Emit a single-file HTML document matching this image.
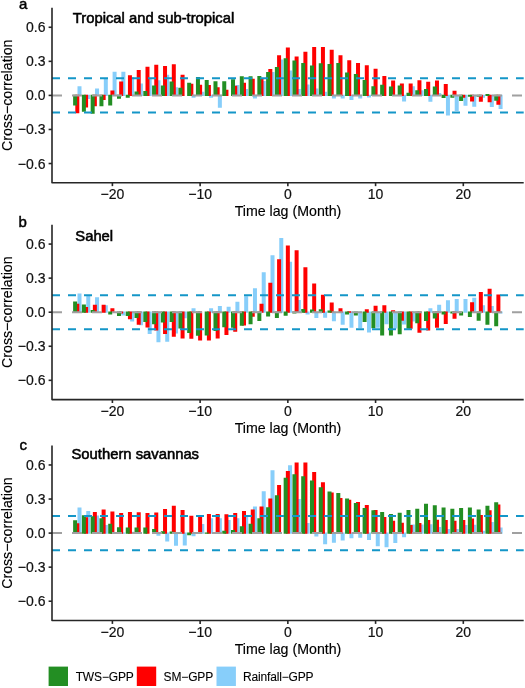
<!DOCTYPE html>
<html><head><meta charset="utf-8"><style>
html,body{margin:0;padding:0;background:#fff;width:525px;height:688px;overflow:hidden}
svg{display:block;will-change:transform}
text{font-family:"Liberation Sans",sans-serif;fill:#000;stroke:#000;stroke-width:0.35px}
.tk{font-size:14px;fill:#111;stroke:#111;stroke-width:0.2px}
.ti{font-size:14.2px;stroke-width:0.15px}
.pt{font-size:14.8px;stroke-width:0.55px}
.tag{font-size:15px;stroke-width:0.45px}
.lg{font-size:12px;stroke-width:0.1px;letter-spacing:-0.15px}
</style></head><body>
<svg width="525" height="688" viewBox="0 0 525 688">
<rect width="525" height="688" fill="#fff"/>
<path fill="#87CEFA" d="M77.5 86.17h4v9.83h-4zM86.27 94.8h4v4.16h-4zM95.05 88.44h4v7.56h-4zM103.82 78.22h4v17.78h-4zM112.59 71.75h4v24.25h-4zM121.36 71.75h4v24.25h-4zM130.13 77.08h4v18.92h-4zM138.91 83.44h4v12.56h-4zM147.68 78.9h4v17.1h-4zM156.45 80.37h4v15.63h-4zM165.23 74.7h4v21.3h-4zM174 87.19h4v8.81h-4zM191.54 94.8h4v3.02h-4zM200.31 91.84h4v4.16h-4zM209.09 94.8h4v3.02h-4zM217.86 94.8h4v12.9h-4zM235.41 85.03h4v10.97h-4zM244.18 88.89h4v7.11h-4zM252.95 94.8h4v3.82h-4zM261.72 81.06h4v14.94h-4zM270.5 71.97h4v24.03h-4zM279.27 59.48h4v36.52h-4zM288.04 70.5h4v25.5h-4zM296.81 89h4v7h-4zM305.59 84.46h4v11.54h-4zM314.36 88.44h4v7.56h-4zM323.13 91.84h4v4.16h-4zM331.9 94.8h4v3.59h-4zM340.68 94.8h4v3.59h-4zM349.45 94.8h4v5.18h-4zM358.22 94.8h4v3.59h-4zM366.99 94.8h4v2.79h-4zM402.08 94.8h4v6.65h-4zM410.86 86.17h4v9.83h-4zM419.63 90.14h4v5.86h-4zM428.4 94.8h4v7h-4zM437.17 92.98h4v3.02h-4zM445.95 94.8h4v20.62h-4zM454.72 94.8h4v16.08h-4zM463.49 94.8h4v10.97h-4zM472.26 94.8h4v11.88h-4zM481.04 94.8h4v3.02h-4zM489.81 94.8h4v12.11h-4zM498.58 94.8h4v14.15h-4z"/>
<path fill="#FF0000" d="M75.31 94.8h4v18.35h-4zM84.08 94.8h4v12.67h-4zM92.86 94.8h4v11.54h-4zM101.63 94.8h4v5.29h-4zM110.4 90.48h4v5.52h-4zM119.17 81.4h4v14.6h-4zM127.94 75.15h4v20.85h-4zM136.72 70.04h4v25.96h-4zM145.49 66.75h4v29.25h-4zM154.26 64.82h4v31.18h-4zM163.04 65.95h4v30.05h-4zM171.81 64.14h4v31.86h-4zM180.58 74.7h4v21.3h-4zM189.35 83.78h4v12.22h-4zM198.12 84.69h4v11.31h-4zM206.9 84.92h4v11.08h-4zM215.67 87.19h4v8.81h-4zM224.44 89.69h4v6.31h-4zM233.22 85.71h4v10.29h-4zM241.99 82.65h4v13.35h-4zM250.76 78.67h4v17.33h-4zM259.53 78.22h4v17.78h-4zM268.31 68.91h4v27.09h-4zM277.08 55.28h4v40.72h-4zM285.85 47.56h4v48.44h-4zM294.62 56.42h4v39.58h-4zM303.4 51.87h4v44.13h-4zM312.17 46.99h4v49.01h-4zM320.94 46.99h4v49.01h-4zM329.71 49.83h4v46.17h-4zM338.49 55.28h4v40.72h-4zM347.26 60.28h4v35.72h-4zM356.03 62.89h4v33.11h-4zM364.8 65.16h4v30.84h-4zM373.58 68.68h4v27.32h-4zM382.35 75.95h4v20.05h-4zM391.12 80.49h4v15.51h-4zM399.89 83.55h4v12.45h-4zM408.67 83.55h4v12.45h-4zM417.44 80.37h4v15.63h-4zM426.21 81.74h4v14.26h-4zM434.98 80.6h4v15.4h-4zM443.76 83.89h4v12.11h-4zM452.53 90.82h4v5.18h-4zM461.3 94.8h4v3.02h-4zM470.07 94.8h4v6.65h-4zM478.85 94.8h4v7h-4zM487.62 94.8h4v7.56h-4zM496.39 94.8h4v9.83h-4z"/>
<path fill="#238E23" d="M73.12 94.8h4v10.74h-4zM81.89 94.8h4v16.99h-4zM90.67 94.8h4v18.92h-4zM99.44 94.8h4v11.42h-4zM108.21 94.8h4v10.74h-4zM116.98 94.8h4v3.93h-4zM125.75 94.8h4v2.91h-4zM134.53 91.5h4v4.5h-4zM143.3 91.05h4v4.95h-4zM152.07 85.48h4v10.52h-4zM160.85 85.48h4v10.52h-4zM169.62 81.51h4v14.49h-4zM178.39 87.76h4v8.24h-4zM187.16 82.65h4v13.35h-4zM195.94 76.97h4v19.03h-4zM204.71 80.03h4v15.97h-4zM213.48 81.17h4v14.83h-4zM222.25 81.17h4v14.83h-4zM231.03 79.24h4v16.76h-4zM239.8 76.17h4v19.83h-4zM248.57 76.17h4v19.83h-4zM257.34 75.95h4v20.05h-4zM266.12 71.97h4v24.03h-4zM274.89 67.09h4v28.91h-4zM283.66 58.35h4v37.65h-4zM292.43 60.62h4v35.38h-4zM301.21 62.89h4v33.11h-4zM309.98 65.5h4v30.5h-4zM318.75 63.23h4v32.77h-4zM327.52 64.02h4v31.98h-4zM336.3 62.89h4v33.11h-4zM345.07 72.54h4v23.46h-4zM353.84 73.9h4v22.1h-4zM362.61 80.03h4v15.97h-4zM371.39 86.17h4v9.83h-4zM380.16 84.69h4v11.31h-4zM388.93 86.62h4v9.38h-4zM397.7 85.48h4v10.52h-4zM406.48 92.64h4v3.36h-4zM415.25 90.14h4v5.86h-4zM424.02 88.89h4v7.11h-4zM432.79 86.62h4v9.38h-4zM441.57 94.8h4v3.25h-4zM450.34 94.8h4v3.02h-4zM459.11 94.8h4v6.2h-4zM467.88 94.8h4v1.89h-4zM476.66 94.8h4v1.89h-4zM485.43 94.11h4v1.89h-4zM494.2 94.8h4v5.86h-4z"/>
<line x1="52" y1="78.37" x2="523.7" y2="78.37" stroke="#1496C8" stroke-width="2" stroke-dasharray="8 8"/>
<line x1="52" y1="112.43" x2="523.7" y2="112.43" stroke="#1496C8" stroke-width="2" stroke-dasharray="8 8"/>
<line x1="52" y1="95.4" x2="523.7" y2="95.4" stroke="#A0A0A0" stroke-width="2" stroke-dasharray="10 10"/>
<path d="M52 7.8V182.75H523.7" fill="none" stroke="#262626" stroke-width="1.6" stroke-linejoin="round"/>
<line x1="48.6" y1="163.53" x2="52" y2="163.53" stroke="#262626" stroke-width="1.6"/>
<text transform="translate(45.5 168.53) scale(1.0 1)" text-anchor="end" class="tk">−0.6</text>
<line x1="48.6" y1="129.47" x2="52" y2="129.47" stroke="#262626" stroke-width="1.6"/>
<text transform="translate(45.5 134.47) scale(1.0 1)" text-anchor="end" class="tk">−0.3</text>
<line x1="48.6" y1="95.4" x2="52" y2="95.4" stroke="#262626" stroke-width="1.6"/>
<text transform="translate(45.5 100.4) scale(1.0 1)" text-anchor="end" class="tk">0.0</text>
<line x1="48.6" y1="61.34" x2="52" y2="61.34" stroke="#262626" stroke-width="1.6"/>
<text transform="translate(45.5 66.34) scale(1.0 1)" text-anchor="end" class="tk">0.3</text>
<line x1="48.6" y1="27.27" x2="52" y2="27.27" stroke="#262626" stroke-width="1.6"/>
<text transform="translate(45.5 32.27) scale(1.0 1)" text-anchor="end" class="tk">0.6</text>
<line x1="112.4" y1="182.75" x2="112.4" y2="186.15" stroke="#262626" stroke-width="1.6"/>
<text transform="translate(112.4 199.35) scale(1.0 1)" text-anchor="middle" class="tk">−20</text>
<line x1="200.12" y1="182.75" x2="200.12" y2="186.15" stroke="#262626" stroke-width="1.6"/>
<text transform="translate(200.12 199.35) scale(1.0 1)" text-anchor="middle" class="tk">−10</text>
<line x1="287.85" y1="182.75" x2="287.85" y2="186.15" stroke="#262626" stroke-width="1.6"/>
<text transform="translate(287.85 199.35) scale(1.0 1)" text-anchor="middle" class="tk">0</text>
<line x1="375.58" y1="182.75" x2="375.58" y2="186.15" stroke="#262626" stroke-width="1.6"/>
<text transform="translate(375.58 199.35) scale(1.0 1)" text-anchor="middle" class="tk">10</text>
<line x1="463.3" y1="182.75" x2="463.3" y2="186.15" stroke="#262626" stroke-width="1.6"/>
<text transform="translate(463.3 199.35) scale(1.0 1)" text-anchor="middle" class="tk">20</text>
<text x="288" y="215.85" text-anchor="middle" class="ti">Time lag (Month)</text>
<text transform="translate(12.2 95.28) rotate(-90)" text-anchor="middle" class="ti">Cross−correlation</text>
<text x="72.8" y="23" class="pt">Tropical and sub-tropical</text>
<text x="19.1" y="8.5" class="tag">a</text>
<path fill="#87CEFA" d="M77.5 293.43h4v19.37h-4zM86.27 295.93h4v16.87h-4zM95.05 297.29h4v15.51h-4zM103.82 305.24h4v7.56h-4zM121.36 311.6h4v3.82h-4zM130.13 311.6h4v9.83h-4zM138.91 311.6h4v13.69h-4zM147.68 311.6h4v22.32h-4zM156.45 311.6h4v30.73h-4zM165.23 311.6h4v30.27h-4zM174 311.6h4v21.87h-4zM182.77 311.6h4v6.65h-4zM191.54 308.19h4v4.61h-4zM209.09 308.19h4v4.61h-4zM217.86 306.03h4v6.77h-4zM226.63 306.83h4v5.97h-4zM235.41 301.83h4v10.97h-4zM244.18 296.15h4v16.65h-4zM252.95 288.2h4v24.6h-4zM261.72 272.31h4v40.49h-4zM270.5 255.27h4v57.52h-4zM279.27 237.9h4v74.9h-4zM288.04 261.63h4v51.17h-4zM296.81 300.01h4v12.79h-4zM305.59 311.6h4v3.02h-4zM314.36 311.6h4v6.31h-4zM323.13 311.6h4v6.09h-4zM331.9 311.6h4v9.61h-4zM340.68 311.6h4v13.24h-4zM349.45 311.6h4v16.08h-4zM358.22 311.6h4v16.31h-4zM366.99 311.6h4v20.85h-4zM375.77 311.6h4v16.08h-4zM384.54 311.6h4v12.67h-4zM393.31 311.6h4v16.99h-4zM402.08 311.6h4v12.9h-4zM410.86 311.6h4v9.83h-4zM428.4 308.19h4v4.61h-4zM437.17 304.78h4v8.02h-4zM445.95 300.24h4v12.56h-4zM454.72 298.88h4v13.92h-4zM463.49 299.11h4v13.69h-4zM472.26 297.74h4v15.06h-4zM481.04 305.24h4v7.56h-4zM489.81 306.03h4v6.77h-4zM498.58 311.6h4v1.89h-4z"/>
<path fill="#FF0000" d="M75.31 303.65h4v9.15h-4zM84.08 307.05h4v5.75h-4zM92.86 304.78h4v8.02h-4zM101.63 304.78h4v8.02h-4zM110.4 308.19h4v4.61h-4zM119.17 311.6h4v1.89h-4zM127.94 311.6h4v7.56h-4zM136.72 311.6h4v13.24h-4zM145.49 311.6h4v15.97h-4zM154.26 311.6h4v18.8h-4zM163.04 311.6h4v22.32h-4zM171.81 311.6h4v25.05h-4zM180.58 311.6h4v26.87h-4zM189.35 311.6h4v27.09h-4zM198.12 311.6h4v28.91h-4zM206.9 311.6h4v29.02h-4zM215.67 311.6h4v26.98h-4zM224.44 311.6h4v23.46h-4zM233.22 311.6h4v20.17h-4zM241.99 311.6h4v13.92h-4zM250.76 311.6h4v5.18h-4zM259.53 303.65h4v9.15h-4zM268.31 282.75h4v30.05h-4zM277.08 259.36h4v53.44h-4zM285.85 245.62h4v67.18h-4zM294.62 250.28h4v62.52h-4zM303.4 267.2h4v45.6h-4zM312.17 283.44h4v29.36h-4zM320.94 294.68h4v18.12h-4zM329.71 302.51h4v10.29h-4zM338.49 308.3h4v4.5h-4zM347.26 311.26h4v1.54h-4zM364.8 309.21h4v3.59h-4zM373.58 305.8h4v7h-4zM382.35 305.24h4v7.56h-4zM391.12 310.23h4v2.57h-4zM399.89 311.6h4v9.27h-4zM408.67 311.6h4v17.21h-4zM417.44 311.6h4v21.19h-4zM426.21 311.6h4v18.92h-4zM434.98 311.6h4v16.08h-4zM443.76 311.6h4v12.45h-4zM452.53 311.6h4v7.22h-4zM470.07 302.28h4v10.52h-4zM478.85 292.07h4v20.73h-4zM487.62 288.66h4v24.14h-4zM496.39 294.56h4v18.24h-4z"/>
<path fill="#238E23" d="M73.12 301.6h4v11.2h-4zM81.89 304.44h4v8.36h-4zM90.67 310.12h4v2.68h-4zM108.21 311.6h4v3.02h-4zM116.98 311.6h4v4.5h-4zM125.75 311.6h4v4.5h-4zM134.53 311.6h4v6.43h-4zM143.3 311.6h4v10.29h-4zM152.07 311.6h4v12.56h-4zM160.85 311.6h4v10.97h-4zM169.62 311.6h4v10.52h-4zM178.39 311.6h4v16.87h-4zM187.16 311.6h4v21.42h-4zM195.94 311.6h4v24.03h-4zM204.71 311.6h4v23.91h-4zM213.48 311.6h4v19.37h-4zM222.25 311.6h4v15.63h-4zM231.03 311.6h4v16.19h-4zM239.8 311.6h4v14.15h-4zM248.57 311.6h4v12.56h-4zM257.34 311.6h4v9.38h-4zM266.12 311.6h4v4.84h-4zM274.89 311.6h4v6.43h-4zM283.66 311.6h4v4.16h-4zM292.43 311.6h4v1.89h-4zM301.21 308.98h4v3.82h-4zM309.98 309.55h4v3.25h-4zM318.75 309.32h4v3.48h-4zM327.52 310.46h4v2.34h-4zM345.07 311.6h4v3.02h-4zM353.84 311.6h4v3.82h-4zM362.61 311.6h4v10.4h-4zM371.39 311.6h4v16.65h-4zM380.16 311.6h4v23.8h-4zM388.93 311.6h4v23.8h-4zM397.7 311.6h4v22.67h-4zM406.48 311.6h4v17.21h-4zM415.25 311.6h4v11.54h-4zM424.02 311.6h4v9.49h-4zM432.79 311.6h4v7h-4zM441.57 311.6h4v3.02h-4zM450.34 311.6h4v1.89h-4zM459.11 311.6h4v3.82h-4zM467.88 311.6h4v5.29h-4zM476.66 311.6h4v9.04h-4zM485.43 311.6h4v13.24h-4zM494.2 311.6h4v14.72h-4z"/>
<line x1="52" y1="295.17" x2="523.7" y2="295.17" stroke="#1496C8" stroke-width="2" stroke-dasharray="8 8"/>
<line x1="52" y1="329.23" x2="523.7" y2="329.23" stroke="#1496C8" stroke-width="2" stroke-dasharray="8 8"/>
<line x1="52" y1="312.2" x2="523.7" y2="312.2" stroke="#A0A0A0" stroke-width="2" stroke-dasharray="10 10"/>
<path d="M52 224.8V399.6H523.7" fill="none" stroke="#262626" stroke-width="1.6" stroke-linejoin="round"/>
<line x1="48.6" y1="380.33" x2="52" y2="380.33" stroke="#262626" stroke-width="1.6"/>
<text transform="translate(45.5 385.33) scale(1.0 1)" text-anchor="end" class="tk">−0.6</text>
<line x1="48.6" y1="346.26" x2="52" y2="346.26" stroke="#262626" stroke-width="1.6"/>
<text transform="translate(45.5 351.26) scale(1.0 1)" text-anchor="end" class="tk">−0.3</text>
<line x1="48.6" y1="312.2" x2="52" y2="312.2" stroke="#262626" stroke-width="1.6"/>
<text transform="translate(45.5 317.2) scale(1.0 1)" text-anchor="end" class="tk">0.0</text>
<line x1="48.6" y1="278.13" x2="52" y2="278.13" stroke="#262626" stroke-width="1.6"/>
<text transform="translate(45.5 283.13) scale(1.0 1)" text-anchor="end" class="tk">0.3</text>
<line x1="48.6" y1="244.07" x2="52" y2="244.07" stroke="#262626" stroke-width="1.6"/>
<text transform="translate(45.5 249.07) scale(1.0 1)" text-anchor="end" class="tk">0.6</text>
<line x1="112.4" y1="399.6" x2="112.4" y2="403" stroke="#262626" stroke-width="1.6"/>
<text transform="translate(112.4 416.2) scale(1.0 1)" text-anchor="middle" class="tk">−20</text>
<line x1="200.12" y1="399.6" x2="200.12" y2="403" stroke="#262626" stroke-width="1.6"/>
<text transform="translate(200.12 416.2) scale(1.0 1)" text-anchor="middle" class="tk">−10</text>
<line x1="287.85" y1="399.6" x2="287.85" y2="403" stroke="#262626" stroke-width="1.6"/>
<text transform="translate(287.85 416.2) scale(1.0 1)" text-anchor="middle" class="tk">0</text>
<line x1="375.58" y1="399.6" x2="375.58" y2="403" stroke="#262626" stroke-width="1.6"/>
<text transform="translate(375.58 416.2) scale(1.0 1)" text-anchor="middle" class="tk">10</text>
<line x1="463.3" y1="399.6" x2="463.3" y2="403" stroke="#262626" stroke-width="1.6"/>
<text transform="translate(463.3 416.2) scale(1.0 1)" text-anchor="middle" class="tk">20</text>
<text x="288" y="432.7" text-anchor="middle" class="ti">Time lag (Month)</text>
<text transform="translate(12.2 312.2) rotate(-90)" text-anchor="middle" class="ti">Cross−correlation</text>
<text x="75.3" y="241" class="pt">Sahel</text>
<text x="18.6" y="227.1" class="tag">b</text>
<path fill="#87CEFA" d="M77.5 507.51h4v26.19h-4zM86.27 510.92h4v22.78h-4zM95.05 515.46h4v18.24h-4zM103.82 524.89h4v8.81h-4zM121.36 532.5h4v1.32h-4zM130.13 531.81h4v1.89h-4zM156.45 532.5h4v3.25h-4zM165.23 532.5h4v8.93h-4zM174 532.5h4v13.35h-4zM182.77 532.5h4v12.9h-4zM191.54 532.5h4v3.82h-4zM200.31 523.98h4v9.72h-4zM209.09 518.3h4v15.4h-4zM217.86 518.19h4v15.51h-4zM226.63 519.89h4v13.81h-4zM235.41 518.19h4v15.51h-4zM244.18 516.49h4v17.21h-4zM252.95 506.49h4v27.21h-4zM261.72 491.28h4v42.42h-4zM270.5 470.27h4v63.43h-4zM288.04 465.16h4v68.54h-4zM296.81 499.11h4v34.59h-4zM305.59 522.96h4v10.74h-4zM314.36 532.5h4v4.04h-4zM323.13 532.5h4v11.65h-4zM331.9 532.5h4v10.17h-4zM340.68 532.5h4v7.9h-4zM349.45 532.5h4v5.75h-4zM358.22 532.5h4v5.18h-4zM366.99 532.5h4v7.45h-4zM375.77 532.5h4v13.69h-4zM384.54 532.5h4v14.83h-4zM393.31 532.5h4v10.52h-4zM402.08 532.5h4v4.72h-4zM410.86 524.55h4v9.15h-4zM419.63 524.43h4v9.27h-4zM428.4 524.21h4v9.49h-4zM437.17 526.93h4v6.77h-4zM445.95 528.98h4v4.72h-4zM454.72 528.98h4v4.72h-4zM463.49 525h4v8.7h-4zM472.26 524.66h4v9.04h-4zM481.04 530.68h4v3.02h-4zM489.81 521.94h4v11.76h-4zM498.58 527.61h4v6.09h-4z"/>
<path fill="#FF0000" d="M75.31 523.18h4v10.52h-4zM84.08 517.17h4v16.53h-4zM92.86 512.06h4v21.64h-4zM101.63 509.56h4v24.14h-4zM110.4 511.49h4v22.21h-4zM119.17 513.08h4v20.62h-4zM127.94 512.06h4v21.64h-4zM136.72 512.28h4v21.42h-4zM145.49 512.97h4v20.73h-4zM154.26 512.62h4v21.08h-4zM163.04 508.88h4v24.82h-4zM171.81 505.7h4v28h-4zM180.58 510.01h4v23.69h-4zM189.35 515.69h4v18.01h-4zM198.12 516.83h4v16.87h-4zM206.9 514.1h4v19.6h-4zM215.67 514.1h4v19.6h-4zM224.44 514.21h4v19.49h-4zM233.22 513.08h4v20.62h-4zM241.99 510.92h4v22.78h-4zM250.76 509.45h4v24.25h-4zM259.53 506.49h4v27.21h-4zM268.31 498.43h4v35.27h-4zM277.08 485.03h4v48.67h-4zM285.85 471.07h4v62.63h-4zM294.62 462.55h4v71.15h-4zM303.4 462.55h4v71.15h-4zM312.17 471.97h4v61.73h-4zM320.94 482.31h4v51.39h-4zM329.71 492.41h4v41.29h-4zM338.49 498.09h4v35.61h-4zM347.26 499.79h4v33.91h-4zM356.03 501.95h4v31.75h-4zM364.8 505.02h4v28.68h-4zM373.58 509.9h4v23.8h-4zM382.35 517.05h4v16.65h-4zM391.12 520.8h4v12.9h-4zM399.89 522.73h4v10.97h-4zM408.67 525h4v8.7h-4zM417.44 522.96h4v10.74h-4zM426.21 520.12h4v13.58h-4zM434.98 519.66h4v14.04h-4zM443.76 520.12h4v13.58h-4zM452.53 520.8h4v12.9h-4zM461.3 520.12h4v13.58h-4zM470.07 518.42h4v15.28h-4zM478.85 515.12h4v18.58h-4zM487.62 510.24h4v23.46h-4zM496.39 504.56h4v29.14h-4z"/>
<path fill="#238E23" d="M73.12 520.23h4v13.47h-4zM81.89 515.24h4v18.46h-4zM90.67 516.37h4v17.33h-4zM99.44 518.3h4v15.4h-4zM108.21 523.75h4v9.95h-4zM116.98 527.27h4v6.43h-4zM125.75 527.5h4v6.2h-4zM134.53 527.5h4v6.2h-4zM143.3 527.5h4v6.2h-4zM152.07 528.98h4v4.72h-4zM160.85 531.25h4v2.45h-4zM169.62 531.59h4v2.11h-4zM187.16 532.5h4v2.68h-4zM204.71 532.38h4v1.32h-4zM222.25 530.68h4v3.02h-4zM231.03 529.88h4v3.82h-4zM239.8 526.14h4v7.56h-4zM248.57 523.87h4v9.83h-4zM257.34 518.19h4v15.51h-4zM266.12 507.29h4v26.41h-4zM274.89 495.36h4v38.34h-4zM283.66 477.76h4v55.94h-4zM292.43 474.24h4v59.46h-4zM301.21 476.18h4v57.52h-4zM309.98 480.38h4v53.32h-4zM318.75 487.19h4v46.51h-4zM327.52 491.5h4v42.2h-4zM336.3 493.09h4v40.61h-4zM345.07 498.54h4v35.16h-4zM353.84 502.97h4v30.73h-4zM362.61 507.97h4v25.73h-4zM371.39 510.24h4v23.46h-4zM380.16 511.94h4v21.76h-4zM388.93 513.99h4v19.71h-4zM397.7 512.85h4v20.85h-4zM406.48 509.9h4v23.8h-4zM415.25 508.76h4v24.94h-4zM424.02 503.77h4v29.93h-4zM432.79 505.36h4v28.34h-4zM441.57 507.4h4v26.3h-4zM450.34 508.76h4v24.94h-4zM459.11 507.97h4v25.73h-4zM467.88 507.4h4v26.3h-4zM476.66 509.45h4v24.25h-4zM485.43 505.7h4v28h-4zM494.2 502.29h4v31.41h-4z"/>
<line x1="52" y1="516.07" x2="523.7" y2="516.07" stroke="#1496C8" stroke-width="2" stroke-dasharray="8 8"/>
<line x1="52" y1="550.13" x2="523.7" y2="550.13" stroke="#1496C8" stroke-width="2" stroke-dasharray="8 8"/>
<line x1="52" y1="533.1" x2="523.7" y2="533.1" stroke="#A0A0A0" stroke-width="2" stroke-dasharray="10 10"/>
<path d="M52 445.6V620.5H523.7" fill="none" stroke="#262626" stroke-width="1.6" stroke-linejoin="round"/>
<line x1="48.6" y1="601.23" x2="52" y2="601.23" stroke="#262626" stroke-width="1.6"/>
<text transform="translate(45.5 606.23) scale(1.0 1)" text-anchor="end" class="tk">−0.6</text>
<line x1="48.6" y1="567.16" x2="52" y2="567.16" stroke="#262626" stroke-width="1.6"/>
<text transform="translate(45.5 572.16) scale(1.0 1)" text-anchor="end" class="tk">−0.3</text>
<line x1="48.6" y1="533.1" x2="52" y2="533.1" stroke="#262626" stroke-width="1.6"/>
<text transform="translate(45.5 538.1) scale(1.0 1)" text-anchor="end" class="tk">0.0</text>
<line x1="48.6" y1="499.04" x2="52" y2="499.04" stroke="#262626" stroke-width="1.6"/>
<text transform="translate(45.5 504.04) scale(1.0 1)" text-anchor="end" class="tk">0.3</text>
<line x1="48.6" y1="464.97" x2="52" y2="464.97" stroke="#262626" stroke-width="1.6"/>
<text transform="translate(45.5 469.97) scale(1.0 1)" text-anchor="end" class="tk">0.6</text>
<line x1="112.4" y1="620.5" x2="112.4" y2="623.9" stroke="#262626" stroke-width="1.6"/>
<text transform="translate(112.4 637.1) scale(1.0 1)" text-anchor="middle" class="tk">−20</text>
<line x1="200.12" y1="620.5" x2="200.12" y2="623.9" stroke="#262626" stroke-width="1.6"/>
<text transform="translate(200.12 637.1) scale(1.0 1)" text-anchor="middle" class="tk">−10</text>
<line x1="287.85" y1="620.5" x2="287.85" y2="623.9" stroke="#262626" stroke-width="1.6"/>
<text transform="translate(287.85 637.1) scale(1.0 1)" text-anchor="middle" class="tk">0</text>
<line x1="375.58" y1="620.5" x2="375.58" y2="623.9" stroke="#262626" stroke-width="1.6"/>
<text transform="translate(375.58 637.1) scale(1.0 1)" text-anchor="middle" class="tk">10</text>
<line x1="463.3" y1="620.5" x2="463.3" y2="623.9" stroke="#262626" stroke-width="1.6"/>
<text transform="translate(463.3 637.1) scale(1.0 1)" text-anchor="middle" class="tk">20</text>
<text x="288" y="653.6" text-anchor="middle" class="ti">Time lag (Month)</text>
<text transform="translate(12.2 533.05) rotate(-90)" text-anchor="middle" class="ti">Cross−correlation</text>
<text x="71.5" y="459" class="pt">Southern savannas</text>
<text x="19.6" y="450.3" class="tag">c</text>
<rect x="48.6" y="666.6" width="19.4" height="19.4" fill="#238E23"/>
<text x="75.7" y="681" class="lg">TWS−GPP</text>
<rect x="136.8" y="666.6" width="19.4" height="19.4" fill="#FF0000"/>
<text x="163.6" y="681" class="lg">SM−GPP</text>
<rect x="216.5" y="666.6" width="19.4" height="19.4" fill="#87CEFA"/>
<text x="242.9" y="681" class="lg">Rainfall−GPP</text>
</svg>
</body></html>
